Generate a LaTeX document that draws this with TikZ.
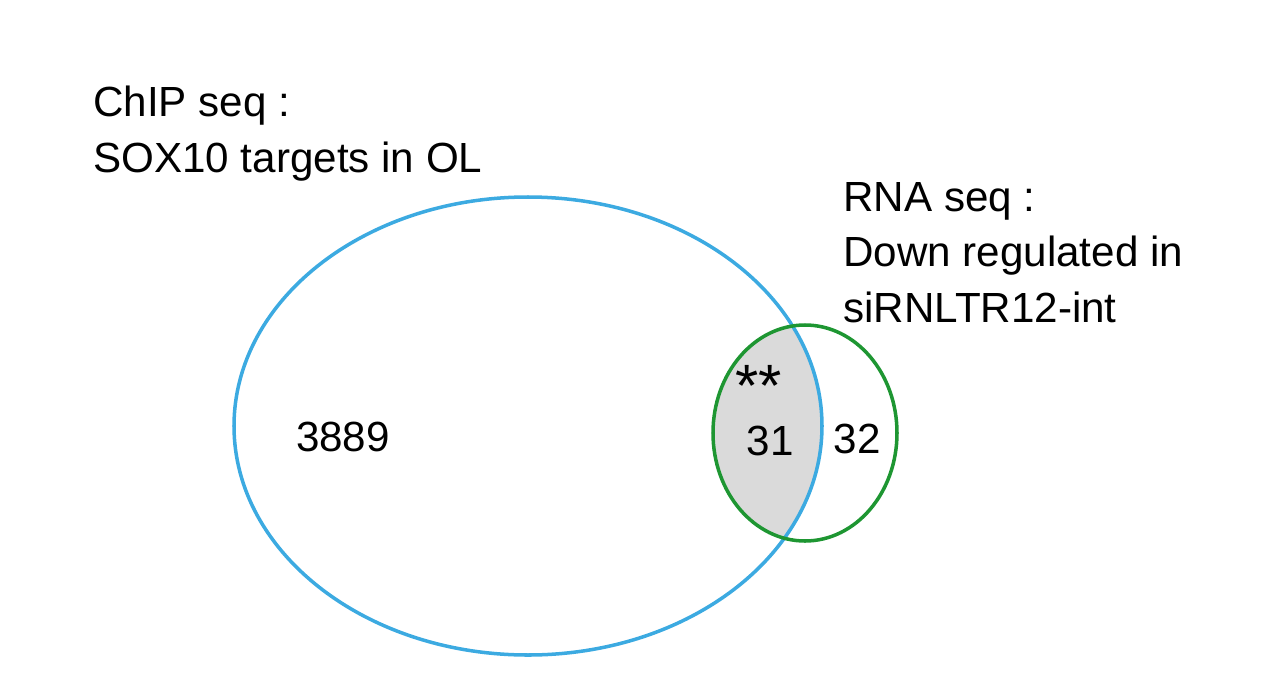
\documentclass[tikz,border=0pt]{standalone}
\usepackage{fontspec}
\setmainfont{Liberation Sans}
\definecolor{chipblue}{RGB}{60,170,225}
\definecolor{rnagreen}{RGB}{30,150,50}
\definecolor{overlap}{RGB}{218,218,218}
\begin{document}
\begin{tikzpicture}[x=0.02cm,y=-0.02cm,
		lbl/.style={font=\fontsize{24}{31.5}\selectfont,align=left,inner sep=0pt}]
		\useasboundingbox (0,0) rectangle (1272,680);
		% shade the overlap
		\begin{scope}
			\clip (805,433) ellipse [x radius=92, y radius=108];
			\fill[overlap] (528,426) ellipse [x radius=294, y radius=229];
		\end{scope}
		% draw the two sets
		\draw[chipblue,line width=2pt] (528,426) ellipse [x radius=294, y radius=229];
		\draw[rnagreen,line width=2pt] (805,433) ellipse [x radius=92, y radius=108];

		% set titles
		\node[lbl,anchor=north west] (chip) at (93,86) {ChIP seq :\\SOX10 targets in OL};
		\node[lbl,anchor=north west] (rna) at (843,182) {RNA seq :\\Down regulated in\\siRNLTR12-int};

		% counts
		\node[lbl] (only chip) at (343,437) {3889};
		\node[lbl] (both) at (770,441) {31};
		\node[lbl] (only rna) at (857,439) {32};
		\node[font=\fontsize{34}{34}\selectfont,inner sep=0pt,text depth=0pt] (stars) at (759,386) {**};
	\end{tikzpicture}
\end{document}
